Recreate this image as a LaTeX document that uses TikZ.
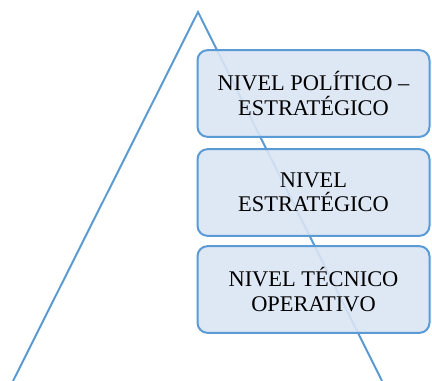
\documentclass[tikz,border=0pt]{standalone}
\usepackage{fontspec}
\setmainfont{Liberation Serif}
\definecolor{linea}{RGB}{91,155,213}
\definecolor{relleno}{RGB}{218,228,243}
\tikzset{
  nivel/.style={draw=linea, line width=1.5pt, fill=relleno, fill opacity=0.9, text opacity=1,
    rounded corners=7.5pt, minimum width=174pt, minimum height=65pt, align=center,
    font=\fontsize{16.8}{18.3}\selectfont}
}
\begin{document}
\begin{tikzpicture}[x=0.75pt, y=-0.75pt]
    \useasboundingbox (0, 0) rectangle (432, 381);
    \coordinate (apex) at (198, 12);
    \coordinate (izq) at (13, 381);
    \coordinate (der) at (382, 381);
    \draw[linea, line width=1.5pt] (izq) -- (apex) -- (der);

    \node[nivel] (politico) at (313.5, 93.5) {NIVEL POLÍTICO –\\ESTRATÉGICO};
    \node[nivel] (estrategico) at (313.5, 192.5) {NIVEL\\ESTRATÉGICO};
    \node[nivel] (tecnico) at (313.5, 289.5) {NIVEL TÉCNICO\\OPERATIVO};
\end{tikzpicture}
\end{document}
